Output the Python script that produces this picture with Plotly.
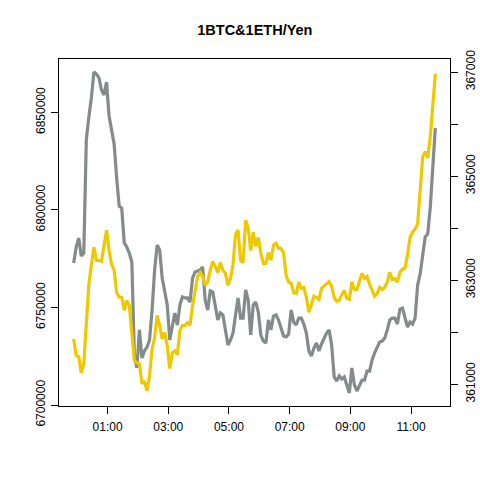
import pandas as pd
import plotly.graph_objects as go

# 5-minute samples, 23:53 -> 11:48
times = pd.date_range("2021-05-01 23:53", periods=144, freq="5min")

btc_yen = [
    6772800, 6781000, 6785600, 6776400, 6777900, 6835900, 6847700, 6857400, 6870800, 6869700,
    6867700, 6861500, 6859000, 6865600, 6848200, 6841000, 6833800, 6816400, 6802000, 6801000,
    6783100, 6781000, 6777900, 6773300, 6725600, 6719000, 6738500, 6724100, 6727700, 6729700,
    6733300, 6748700, 6769200, 6782000, 6779500, 6765100, 6759000, 6751300, 6733300, 6741000,
    6747200, 6741000, 6751300, 6755400, 6754900, 6754900, 6752800, 6765100, 6768200, 6768700,
    6769200, 6770800, 6753800, 6748700, 6758500, 6757900, 6751300, 6743600, 6747200, 6746200,
    6738500, 6730800, 6733300, 6736900, 6746200, 6754900, 6744600, 6744600, 6759000, 6753800,
    6735900, 6751300, 6752800, 6747700, 6735900, 6732800, 6731800, 6743600, 6738500, 6745600,
    6746200, 6743600, 6739500, 6735400, 6734900, 6736400, 6748700, 6742600, 6741000, 6744600,
    6744600, 6741500, 6736900, 6727700, 6725100, 6729200, 6731800, 6727700, 6731300, 6734400,
    6736900, 6738500, 6730800, 6714400, 6712300, 6714900, 6713300, 6714400, 6710300, 6706200,
    6719000, 6710300, 6707200, 6710300, 6712800, 6712800, 6717400, 6717400, 6723100, 6726700,
    6729200, 6732300, 6732800, 6734400, 6738500, 6743600, 6744600, 6744600, 6741500, 6749200,
    6749700, 6745100, 6740000, 6742600, 6741500, 6744600, 6761500, 6767200, 6776900, 6786200,
    6787700, 6801500, 6822000, 6842000,
]

eth_yen = [
    361870, 361550, 361530, 361220, 361390, 362160, 362920, 363280, 363630, 363380,
    363380, 363360, 363710, 363960, 363570, 363300, 363190, 362760, 362670, 362670,
    362420, 362610, 362510, 361970, 361450, 361410, 361390, 361010, 361060, 360870,
    361160, 361680, 361890, 362320, 362130, 361870, 361990, 361740, 361300, 361600,
    361640, 361570, 362030, 362130, 362130, 362180, 362130, 362510, 362800, 363070,
    363150, 363070, 362900, 362960, 363190, 363360, 363260, 363150, 363340, 363190,
    363130, 362900, 363030, 363300, 363880, 363960, 363380, 363340, 364150, 364000,
    363570, 363920, 363650, 363820, 363520, 363320, 363320, 363530, 363380, 363670,
    363710, 363610, 363610, 363520, 363090, 362960, 362940, 362760, 362740, 362960,
    362840, 362860, 362670, 362380, 362530, 362690, 362670, 362630, 362840, 362880,
    362940, 362970, 362880, 362670, 362590, 362610, 362720, 362800, 362650, 362630,
    362970, 362820, 362820, 362970, 363130, 363030, 363070, 362920, 362800, 362690,
    362740, 362860, 362820, 362860, 362970, 363150, 363010, 363030, 362960, 363150,
    363210, 363230, 363480, 363820, 363920, 363980, 364080, 364830, 365370, 365470,
    365350, 365760, 366470, 366970,
]

btc_ticks = [6700000, 6750000, 6800000, 6850000]
eth_ticks = [361000, 362000, 363000, 364000, 365000, 366000, 367000]
eth_labels = ["361000", "", "363000", "", "365000", "", "367000"]
hour_ticks = pd.date_range("2021-05-02 01:00", periods=6, freq="2h")

fig = go.Figure()
fig.add_trace(go.Scatter(x=times, y=btc_yen, mode="lines",
                         line=dict(color="#838B8B", width=3.2)))
fig.add_trace(go.Scatter(x=times, y=eth_yen, mode="lines", yaxis="y2",
                         line=dict(color="#EEC900", width=3.2)))

tickfont = dict(family="Liberation Sans, Arial, sans-serif", size=12, color="black")
pad = pd.Timedelta(minutes=29)

fig.update_layout(
    width=480, height=480,
    margin=dict(l=59, r=30, t=59, b=74),
    paper_bgcolor="white", plot_bgcolor="white",
    showlegend=False,
    title=dict(text="<b>1BTC&1ETH/Yen</b>", x=0.531, xanchor="center", y=0.937, yanchor="middle",
               font=dict(family="Liberation Sans, Arial, sans-serif", size=14.5, color="black")),
    xaxis=dict(range=[times[0] - pad, times[-1] + pad], automargin=False,
               tickvals=hour_ticks, ticktext=[t.strftime("%H:%M") for t in hour_ticks],
               ticks="outside", ticklen=7, tickcolor="black", tickfont=tickfont,
               ticklabelstandoff=3,
               showgrid=False, zeroline=False, showline=True, linecolor="black",
               linewidth=1, mirror=True),
    yaxis=dict(range=[6699500, 6877400], automargin=False, tickvals=btc_ticks,
               ticktext=[str(v) for v in btc_ticks], tickangle=-90,
               ticks="outside", ticklen=7, tickcolor="black", tickfont=tickfont,
               ticklabelstandoff=1,
               showgrid=False, zeroline=False, showline=True, linecolor="black",
               linewidth=1),
    yaxis2=dict(range=[360580, 367250], automargin=False, overlaying="y", side="right",
                tickvals=eth_ticks, ticktext=eth_labels, tickangle=-90,
                ticks="outside", ticklen=7, tickcolor="black", tickfont=tickfont,
                ticklabelstandoff=3,
                showgrid=False, zeroline=False, showline=True, linecolor="black",
                linewidth=1),
)

# page has a default body margin; drop it so the 480x480 figure fills the window
fig.write_html("out.html", config={"responsive": False, "displayModeBar": False},
               post_script="document.body.style.margin='0';")
